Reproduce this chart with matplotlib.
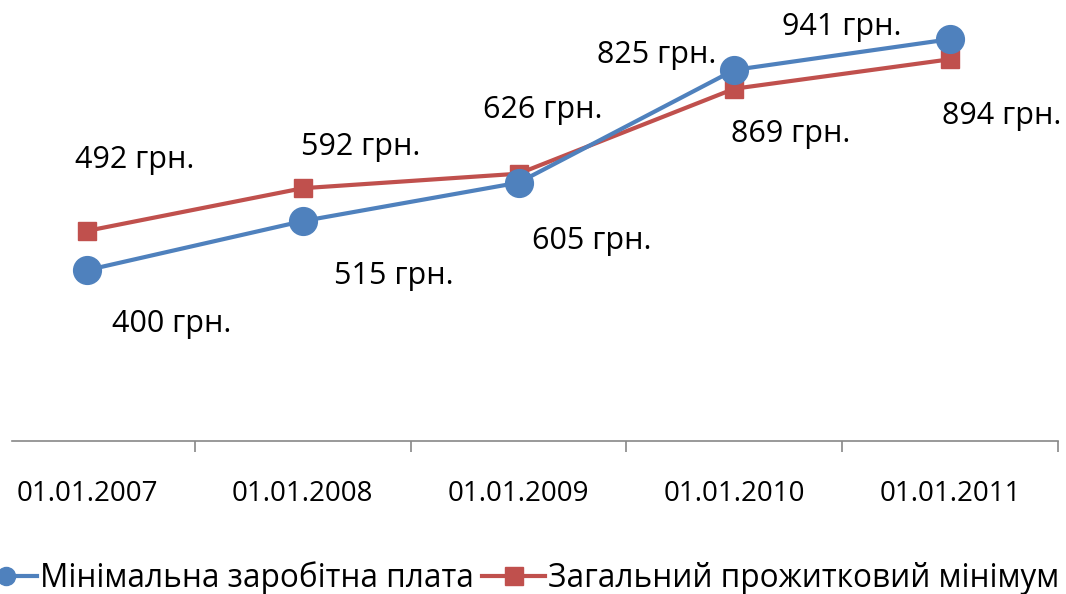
import matplotlib.pyplot as plt
from matplotlib.lines import Line2D

plt.rcParams['font.family'] = ['Open Sans', 'DejaVu Sans']

dates = ['01.01.2007', '01.01.2008', '01.01.2009', '01.01.2010', '01.01.2011']
min_wage = [400, 515, 605, 869, 941]
subsist_min = [492, 592, 626, 825, 894]

# label offsets in pixels (dx, dy) from each point
wage_off = [(85, -54), (91, -55), (73, -58), (56, -64), (-108, 12)]
subs_off = [(48, 71), (58, 41), (24, 64), (-78, 34), (52, -57)]

blue = '#4F81BD'
red = '#C0504D'

W, H = 1066, 594
fig = plt.figure(figsize=(W / 100, H / 100), dpi=100)
ax = fig.add_axes([12 / W, 1 - 441 / H, (1058 - 12) / W, (441 - 14) / H])

x = list(range(len(dates)))
ax.plot(x, subsist_min, color=red, lw=3, marker='s', ms=13, zorder=3)
ax.plot(x, min_wage, color=blue, lw=3, marker='o', ms=20, zorder=4)

for i in x:
    ax.annotate(f'{min_wage[i]} грн.', (i, min_wage[i]), xytext=wage_off[i],
                textcoords='offset pixels', ha='center', va='center', fontsize=22)
    ax.annotate(f'{subsist_min[i]} грн.', (i, subsist_min[i]), xytext=subs_off[i],
                textcoords='offset pixels', ha='center', va='center', fontsize=22)

ax.set_xlim(-0.5 + 33 / 216, 4.5)
ax.set_ylim(0, 1000)
ax.set_yticks([])
for s in ['top', 'right', 'left']:
    ax.spines[s].set_visible(False)
ax.spines['bottom'].set_color('#888888')
ax.spines['bottom'].set_linewidth(1.2)

ax.set_xticks([i + 0.5 for i in x], minor=True)
ax.set_xticks(x)
ax.set_xticklabels(dates, fontsize=20)
ax.tick_params(axis='x', which='major', length=0, pad=28)
ax.tick_params(axis='x', which='minor', length=8, color='#888888', width=1.2)

handles = [
    Line2D([], [], color=blue, lw=3, marker='o', ms=13),
    Line2D([], [], color=red, lw=3, marker='s', ms=13),
]
fig.legend(handles, ['Мінімальна заробітна плата', 'Загальний прожитковий мінімум'],
           loc='center right', bbox_to_anchor=(1088 / W, 1 - 578 / H), ncol=2,
           frameon=False, fontsize=22.7, handlelength=2.0, handletextpad=0.1,
           columnspacing=0.25)

fig.savefig('out.png', dpi=100)
